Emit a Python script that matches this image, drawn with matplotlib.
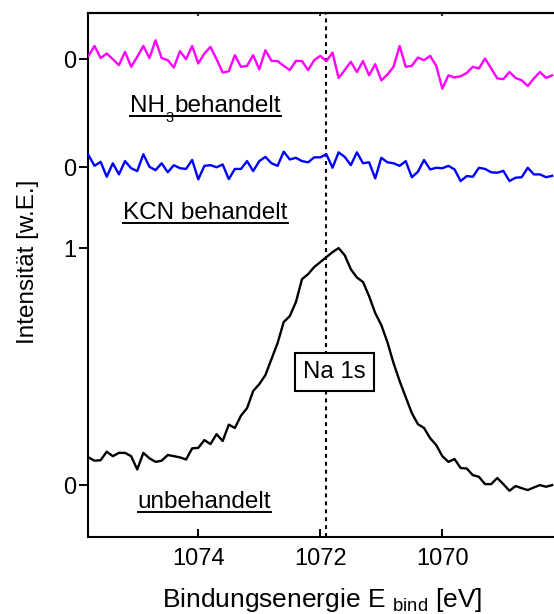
import matplotlib
matplotlib.use('Agg')
import matplotlib.pyplot as plt
from matplotlib.lines import Line2D
import numpy as np

plt.rcParams['font.family'] = ['Liberation Sans', 'DejaVu Sans']
plt.rcParams['mathtext.fontset'] = 'custom'
plt.rcParams['mathtext.rm'] = 'Liberation Sans'
plt.rcParams['mathtext.it'] = 'Liberation Sans:italic'
plt.rcParams['mathtext.bf'] = 'Liberation Sans:bold'

# ---------------- data ----------------
energy = [1075.8, 1075.7, 1075.6, 1075.5, 1075.4, 1075.3, 1075.2, 1075.1, 1075.0, 1074.9,
          1074.8, 1074.7, 1074.6, 1074.5, 1074.4, 1074.3, 1074.2, 1074.1, 1074.0, 1073.9,
          1073.8, 1073.7, 1073.6, 1073.5, 1073.4, 1073.3, 1073.2, 1073.1, 1073.0, 1072.9,
          1072.8, 1072.7, 1072.6, 1072.5, 1072.4, 1072.3, 1072.2, 1072.1, 1072.0, 1071.9,
          1071.8, 1071.7, 1071.6, 1071.5, 1071.4, 1071.3, 1071.2, 1071.1, 1071.0, 1070.9,
          1070.8, 1070.7, 1070.6, 1070.5, 1070.4, 1070.3, 1070.2, 1070.1, 1070.0, 1069.9,
          1069.8, 1069.7, 1069.6, 1069.5, 1069.4, 1069.3, 1069.2, 1069.1, 1069.0, 1068.9,
          1068.8, 1068.7, 1068.6, 1068.5, 1068.4, 1068.3, 1068.2]

unbehandelt = [0.117, 0.103, 0.105, 0.141, 0.122, 0.136, 0.136, 0.122, 0.066, 0.136,
               0.113, 0.098, 0.103, 0.127, 0.122, 0.117, 0.108, 0.155, 0.157, 0.190,
               0.173, 0.215, 0.186, 0.255, 0.241, 0.293, 0.325, 0.397, 0.426, 0.464,
               0.532, 0.599, 0.688, 0.713, 0.772, 0.869, 0.890, 0.920, 0.941, 0.962,
               0.983, 1.000, 0.970, 0.911, 0.876, 0.857, 0.797, 0.726, 0.675, 0.603,
               0.515, 0.439, 0.371, 0.304, 0.257, 0.241, 0.198, 0.169, 0.122, 0.098,
               0.110, 0.072, 0.070, 0.042, 0.035, 0.004, 0.004, 0.030, 0.004, -0.024,
               -0.004, -0.013, -0.021, -0.010, 0.000, -0.007, 0.000]

kcn_behandelt = [0.051, 0.005, 0.022, -0.041, 0.016, -0.031, 0.025, -0.005, -0.017, 0.054,
                 0.001, -0.013, 0.016, -0.022, 0.008, -0.005, -0.008, 0.030, -0.052, 0.005,
                 0.008, -0.001, 0.011, -0.051, -0.008, -0.008, 0.025, -0.017, 0.025, 0.043,
                 0.016, 0.005, 0.065, 0.032, 0.039, 0.025, 0.020, 0.041, 0.041,
                 0.054, -0.003, 0.062, 0.043, 0.008, 0.062, 0.016, 0.020, -0.048, 0.039,
                 0.020, 0.016, 0.005, 0.025, -0.043, -0.020, 0.030, -0.010, -0.003, -0.005,
                 0.005, -0.010, -0.059, -0.038, -0.041, -0.003, -0.008, -0.022, -0.024, -0.016,
                 -0.059, -0.045, -0.043, -0.003, -0.031, -0.031, -0.043, -0.037]

nh3_behandelt = [0.014, 0.056, 0.005, 0.024, 0.000, -0.025, 0.031, -0.032, 0.010, 0.056,
                 0.005, 0.080, 0.005, -0.004, -0.035, 0.034, 0.000, 0.056, -0.018, 0.024,
                 0.052, 0.000, -0.056, -0.051, 0.017, -0.032, -0.028, 0.017, -0.043, 0.038,
                 -0.007, -0.008, -0.028, -0.046, -0.007, -0.008, -0.046, -0.004, 0.014,
                 -0.008, 0.028, -0.079, -0.046, -0.011, -0.054, -0.008, -0.068, -0.021, -0.089,
                 -0.065, -0.032, 0.056, -0.032, -0.028, 0.007, -0.004, 0.014, -0.028, -0.124,
                 -0.068, -0.077, -0.072, -0.058, -0.032, -0.039, 0.003, -0.039, -0.081, -0.084,
                 -0.054, -0.079, -0.089, -0.113, -0.081, -0.054, -0.079, -0.068]

offset_unbehandelt = 0.0
offset_kcn = 1.342
offset_nh3 = 1.797

# label pieces: (normal text, subscript, normal text)
label_unbehandelt = ('unbehandelt', '', '')
label_kcn = ('KCN behandelt', '', '')
label_nh3 = ('NH', '3', 'behandelt')
x_ticks = [1074, 1072, 1070]
x_tick_labels = ['1074', '1072', '1070']
y_tick_pos = [0.0, 1.0, 1.342, 1.797]
y_tick_labels = ['0', '1', '0', '0']
na_line = 1071.9
peak_label = 'Na 1s'
xlabel = r'Bindungsenergie E $_{\mathrm{bind}}$ [eV]'
ylabel = 'Intensität [w.E.]'

# ---------------- figure ----------------
W, H = 554, 614
fig = plt.figure(figsize=(W / 100, H / 100), dpi=100)
ax = fig.add_axes([88 / W, 77 / H, 466 / W, 524 / H])

ax.plot(energy, np.array(unbehandelt) + offset_unbehandelt, color='black', lw=1.7, zorder=3)
ax.plot(energy, np.array(kcn_behandelt) + offset_kcn, color='#0000FF', lw=1.7, zorder=3)
ax.plot(energy, np.array(nh3_behandelt) + offset_nh3, color='#FF00FF', lw=1.7, zorder=3)

ax.axvline(na_line, color='black', lw=1.5, ls=(0, (1.9, 1.9)), zorder=2)
ax.text(1071.77, 0.477, peak_label, ha='center', va='center', fontsize=17.3, zorder=6,
        bbox=dict(boxstyle='square,pad=0.35', fc='white', ec='black', lw=1.5))

ax.set_xlim(1075.807, 1068.170)
ax.set_ylim(-0.219, 1.992)

for s in ['left', 'bottom', 'top']:
    ax.spines[s].set_linewidth(1.5)
ax.spines['right'].set_visible(False)

ax.set_xticks(x_ticks)
ax.set_xticklabels(x_tick_labels)
ax.set_yticks(y_tick_pos)
ax.set_yticklabels(y_tick_labels)
ax.minorticks_off()
ax.tick_params(axis='x', direction='in', length=6, width=1.4, pad=8, labelsize=17)
ax.tick_params(axis='y', direction='out', length=6.5, width=1.4, pad=2.2, labelsize=17)

secax = ax.secondary_xaxis('top')
secax.set_xticks(x_ticks)
secax.tick_params(direction='in', length=2.5, width=1.2, labeltop=False)
secax.spines['top'].set_linewidth(1.5)

ax.set_xlabel(xlabel, fontsize=19)
ax.xaxis.set_label_coords(0.503, -0.094)
ax.set_ylabel(ylabel, fontsize=17.5)
ax.yaxis.set_label_coords(-0.105, 0.525)

# series labels with underline
fig.canvas.draw()
renderer = fig.canvas.get_renderer()
label_pos = [(1074.99, -0.097), (1075.23, 1.122), (1075.12, 1.574)]
for (lx, ly), parts in zip(label_pos, [label_unbehandelt, label_kcn, label_nh3]):
    bx, base = ax.transData.transform((lx, ly))
    t1 = fig.text(bx / W, base / H, parts[0], ha='left', va='baseline', fontsize=17.5)
    bb1 = t1.get_window_extent(renderer)
    x_end = bb1.x1
    if parts[1]:
        t2 = fig.text((x_end + 0.5) / W, (base - 10) / H, parts[1], ha='left',
                      va='baseline', fontsize=10.5)
        bb2 = t2.get_window_extent(renderer)
        t3 = fig.text((bb2.x1 + 0.5) / W, base / H, parts[2], ha='left',
                      va='baseline', fontsize=17.5)
        x_end = t3.get_window_extent(renderer).x1
    yl = (base - 3.5) / H
    fig.add_artist(Line2D([bb1.x0 / W, x_end / W], [yl, yl], transform=fig.transFigure,
                          color='black', lw=1.4))

fig.savefig('out.png', dpi=100)
